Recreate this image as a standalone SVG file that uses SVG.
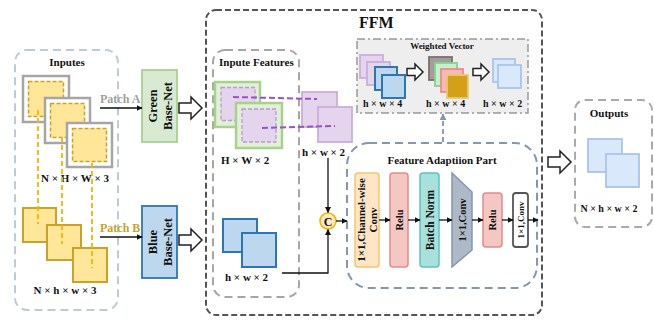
<svg xmlns="http://www.w3.org/2000/svg" width="654" height="320" viewBox="0 0 654 320">
<defs>
<marker id="ah" viewBox="0 0 10 10" refX="9" refY="5" markerWidth="6" markerHeight="6" orient="auto-start-reverse" markerUnits="userSpaceOnUse"><path d="M0,0 L10,5 L0,10 Z" fill="#111"/></marker>
<marker id="ahb" viewBox="0 0 10 10" refX="9" refY="5" markerWidth="7" markerHeight="7" orient="auto" markerUnits="userSpaceOnUse"><path d="M0,0 L10,5 L0,10 Z" fill="#8497b0"/></marker>
<path id="bigArrow" d="M0,-5 H12 V-11 L23,0 L12,11 V5 H0 Z"/>
<path id="smArrow" d="M0,-3.5 H8 V-8 L16,0 L8,8 V3.5 H0 Z"/>
</defs>
<style>
text{font-family:"Liberation Serif","Times New Roman",serif;font-weight:bold;fill:#111}
.t11{font-size:11px}
.t10{font-size:10px}
.t9{font-size:9px}
.hollow{fill:#fff;stroke:#222;stroke-width:1.5;stroke-linejoin:miter}
.grayframe{fill:#fff;stroke:#a6a6a6;stroke-width:2.5}
.yin{fill:#ffe699;stroke:#c9a227;stroke-width:1.5;stroke-dasharray:4 2}
.ysq{fill:#ffe699;stroke:#c9a227;stroke-width:2}
.yline{stroke:#f5b400;stroke-width:1.8;stroke-dasharray:5 3;fill:none}
.gframe{fill:#e2efd9;stroke:#a9d18e;stroke-width:2.5}
.pin{fill:#e4d5ec;stroke:#b89ccc;stroke-width:1.3;stroke-dasharray:4 2}
.psq{fill:#e4d5ec;stroke:#c9aedb;stroke-width:1.8}
.pline{stroke:#9a4fd0;stroke-width:2;stroke-dasharray:6 3;fill:none}
.bsq{fill:#bdd7ee;stroke:#2e75b6;stroke-width:2}
.lbsq{fill:#dae8fc;stroke:#a9c4eb;stroke-width:1.8}
.conn{stroke:#111;stroke-width:1.3;fill:none}
</style>

<!-- Inputes -->
<g id="inputes">
<rect x="15" y="50" width="103" height="260" rx="12" fill="none" stroke="#bccbd9" stroke-width="2" stroke-dasharray="8 5"/>
<text class="t11" x="67" y="66" text-anchor="middle">Inputes</text>
<rect class="grayframe" x="23" y="76" width="46" height="46"/>
<rect class="yin" x="28.5" y="81.5" width="35" height="35"/>
<rect class="grayframe" x="45" y="98" width="45" height="45"/>
<rect class="yin" x="50.5" y="103.5" width="34" height="34"/>
<rect class="grayframe" x="67" y="123" width="45" height="44"/>
<rect class="yin" x="72.5" y="128.5" width="34" height="33"/>
<text class="t11" x="75" y="182" text-anchor="middle">N × H × W × 3</text>
<rect class="ysq" x="23" y="208" width="33" height="34"/>
<rect class="ysq" x="47" y="225" width="34" height="35"/>
<rect class="ysq" x="73" y="248" width="34" height="34"/>
<text class="t11" x="65" y="294" text-anchor="middle">N × h × w × 3</text>
<line class="yline" x1="38" y1="110" x2="38" y2="224"/>
<line class="yline" x1="62" y1="137" x2="62" y2="244"/>
<line class="yline" x1="92" y1="163" x2="92" y2="268"/>
</g>

<!-- Base nets -->
<g id="green-basenet">
<rect x="142" y="70" width="35" height="72" fill="#d9ead3" stroke="#a9d18e" stroke-width="1.8"/>
<g transform="translate(159.5,106) rotate(-90)">
<text x="0" y="-3" font-size="12.5" text-anchor="middle">Green</text>
<text x="0" y="12" font-size="12.5" text-anchor="middle">Base-Net</text>
</g>
</g>
<g id="blue-basenet">
<rect x="142" y="206" width="35" height="72" fill="#bdd7ee" stroke="#2e75b6" stroke-width="1.8"/>
<g transform="translate(159.5,242) rotate(-90)">
<text x="0" y="-3" font-size="12.5" text-anchor="middle">Blue</text>
<text x="0" y="12" font-size="12.5" text-anchor="middle">Base-Net</text>
</g>
</g>

<!-- FFM -->
<g id="ffm">
<rect x="206" y="10" width="336" height="305" rx="10" fill="none" stroke="#555" stroke-width="2" stroke-dasharray="6 3"/>
<text x="359" y="28" font-size="16">FFM</text>
</g>

<!-- Inpute Features -->
<g id="inpute-features">
<rect x="213" y="50" width="86" height="247" rx="12" fill="none" stroke="#a6a6a6" stroke-width="2" stroke-dasharray="8 5"/>
<text class="t11" x="219" y="66">Inpute Features</text>
<rect class="gframe" x="215" y="82" width="45" height="45"/>
<rect class="pin" x="221" y="87.5" width="34" height="33"/>
<rect class="gframe" x="236" y="103" width="46" height="45"/>
<rect class="pin" x="242" y="109" width="34" height="33"/>
<text class="t11" x="221" y="164">H × W × 2</text>
<rect class="bsq" x="223" y="219" width="34" height="33"/>
<rect class="bsq" x="242" y="233" width="34" height="34"/>
<text class="t11" x="225" y="281">h × w × 2</text>
</g>

<g id="hw2-features">
<rect class="psq" x="302" y="92" width="35" height="35"/>
<rect class="psq" x="318" y="107" width="34" height="35"/>
<text class="t11" x="302" y="156">h × w × 2</text>
</g>

<!-- Weighted Vector -->
<g id="weighted-vector">
<rect x="357" y="39" width="171" height="74" fill="#eeeeee" stroke="#999" stroke-width="1.5" stroke-dasharray="8 3 2 3"/>
<text class="t9" x="442" y="49" text-anchor="middle">Weighted Vector</text>
<rect class="psq" x="360" y="55" width="23" height="23"/>
<rect class="psq" x="367" y="62" width="23" height="23"/>
<rect class="bsq" x="375" y="67" width="22" height="23"/>
<rect class="bsq" x="382" y="75" width="23" height="23"/>
<text class="t10" x="363" y="107">h × w × 4</text>
<use href="#smArrow" class="hollow" transform="translate(407,72)"/>
<rect x="429" y="57" width="23" height="23" fill="#a59c9c" stroke="#7a7070" stroke-width="1.8"/>
<rect x="435" y="63" width="22" height="23" fill="#c6efce" stroke="#7fd48f" stroke-width="1.8"/>
<rect x="441" y="69" width="22" height="23" fill="#f8b8b8" stroke="#f08a8a" stroke-width="1.8"/>
<rect x="447" y="75" width="21" height="23" fill="#d4a017" stroke="#e8c870" stroke-width="1.8"/>
<text class="t10" x="426" y="107">h × w × 4</text>
<use href="#smArrow" class="hollow" transform="translate(473,72)"/>
<rect class="lbsq" x="493" y="59" width="22" height="23"/>
<rect class="lbsq" x="498" y="65" width="23" height="23"/>
<text class="t10" x="483" y="107">h × w × 2</text>
</g>

<!-- Concat node -->
<g id="concat">
<circle cx="328" cy="221" r="8" fill="#fde9c0" stroke="#f5b400" stroke-width="1.6"/>
<text x="328" y="225.5" font-size="12" text-anchor="middle">C</text>
</g>

<!-- Feature Adaptiion Part -->
<g id="fap">
<rect x="347" y="143" width="190" height="145" rx="22" fill="none" stroke="#8497b0" stroke-width="2" stroke-dasharray="8 5"/>
<text class="t11" x="442" y="164" text-anchor="middle">Feature Adaptiion Part</text>
</g>
<g id="fap-conv1">
<rect x="355" y="173" width="24" height="94" rx="3" fill="#fde5c5" stroke="#f4c76b" stroke-width="1.5"/>
<g transform="translate(367,220) rotate(-90)">
<text x="0" y="-2" font-size="11" text-anchor="middle">1×1,Channel-wise</text>
<text x="0" y="9.5" font-size="11" text-anchor="middle">Conv</text>
</g>
</g>
<g id="fap-relu1">
<rect x="390" y="173" width="18" height="94" rx="3" fill="#f4c7c3" stroke="#e08c8c" stroke-width="1.5"/>
<text font-size="10.5" transform="translate(403,220) rotate(-90)" text-anchor="middle">Relu</text>
</g>
<g id="fap-bn">
<rect x="420" y="173" width="19" height="94" rx="3" fill="#a8e0dc" stroke="#5cc4bf" stroke-width="1.5"/>
<text font-size="11.5" transform="translate(433.5,220) rotate(-90)" text-anchor="middle">Batch Norm</text>
</g>
<g id="fap-conv2">
<path d="M452,173 L472,192 L472,250 L452,267 Z" fill="#adb9c6" stroke="#8497b0" stroke-width="1.5"/>
<text font-size="10.5" transform="translate(466,220) rotate(-90)" text-anchor="middle">1×1,Conv</text>
</g>
<g id="fap-relu2">
<rect x="483" y="193" width="19" height="54" rx="3" fill="#f4c7c3" stroke="#e08c8c" stroke-width="1.5"/>
<text font-size="10.5" transform="translate(496,220) rotate(-90)" text-anchor="middle">Relu</text>
</g>
<g id="fap-conv3">
<rect x="513" y="193" width="15" height="54" rx="3" fill="#fff" stroke="#555" stroke-width="1.8"/>
<text class="t9" transform="translate(523.5,220) rotate(-90)" text-anchor="middle">1×1,Conv</text>
</g>

<!-- Outputs -->
<g id="outputs">
<rect x="575" y="100" width="77" height="127" rx="10" fill="none" stroke="#aaa" stroke-width="2" stroke-dasharray="8 5"/>
<text class="t11" x="609" y="117" text-anchor="middle">Outputs</text>
<rect class="lbsq" x="588" y="139" width="34" height="33"/>
<rect class="lbsq" x="606" y="154" width="33" height="33"/>
<text class="t10" x="609" y="212" text-anchor="middle">N × h × w × 2</text>
</g>

<!-- Connectors -->
<g id="connectors">
<text x="100" y="103" font-size="12" style="fill:#a0a0a0">Patch A</text>
<line class="conn" x1="100" y1="108" x2="142" y2="108" marker-end="url(#ah)"/>
<text x="100" y="232" font-size="12" style="fill:#c9a227">Patch B</text>
<line class="conn" x1="100" y1="237" x2="142" y2="237" marker-end="url(#ah)"/>
<use href="#bigArrow" class="hollow" transform="translate(179,108)"/>
<use href="#bigArrow" class="hollow" transform="translate(179,240)"/>
<use href="#bigArrow" class="hollow" transform="translate(548,162)"/>
<line class="pline" x1="233" y1="97" x2="317" y2="99"/>
<line class="pline" x1="262" y1="128" x2="335" y2="126"/>
<line class="conn" x1="328" y1="158" x2="328" y2="212.5" marker-end="url(#ah)"/>
<polyline class="conn" points="282,273 328,273 328,229.5" marker-end="url(#ah)"/>
<line class="conn" x1="336" y1="221" x2="347" y2="221" marker-end="url(#ah)"/>
<line class="conn" x1="379" y1="220" x2="390" y2="220" marker-end="url(#ah)"/>
<line class="conn" x1="408" y1="220" x2="420" y2="220" marker-end="url(#ah)"/>
<line class="conn" x1="439" y1="220" x2="452" y2="220" marker-end="url(#ah)"/>
<line class="conn" x1="472" y1="220" x2="483" y2="220" marker-end="url(#ah)"/>
<line class="conn" x1="502" y1="220" x2="513" y2="220" marker-end="url(#ah)"/>
<line class="conn" x1="528" y1="220" x2="538" y2="220" marker-end="url(#ah)"/>
<line x1="443" y1="142" x2="443" y2="114" stroke="#8497b0" stroke-width="1.8" stroke-dasharray="5 3" marker-end="url(#ahb)"/>
</g>
</svg>
